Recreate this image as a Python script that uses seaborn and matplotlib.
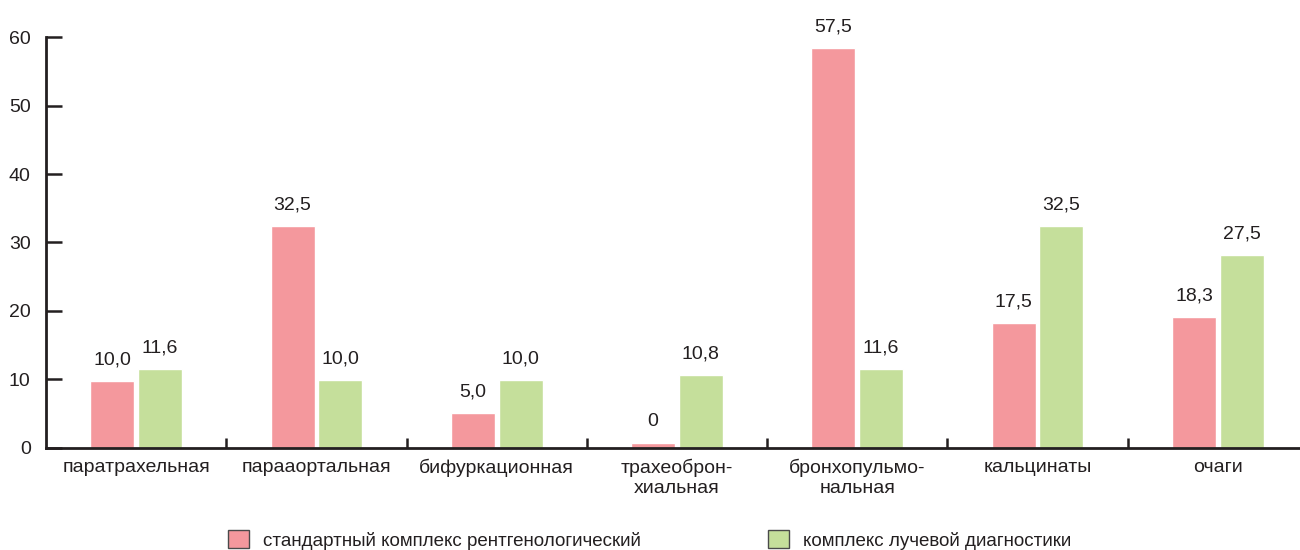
import pandas as pd
import matplotlib
matplotlib.use("Agg")
import matplotlib.pyplot as plt
import matplotlib.patches as mpatches
from matplotlib.ticker import FixedLocator
import seaborn as sns

# --- data ---
categories = ['паратрахельная', 'парааортальная', 'бифуркационная',
              'трахеоброн-\nхиальная', 'бронхопульмо-\nнальная', 'кальцинаты', 'очаги']
series_names = ['стандартный комплекс рентгенологический', 'комплекс лучевой диагностики']
standard_heights = [9.8, 32.4, 5.1, 0.7, 58.4, 18.2, 19.1]
radiation_heights = [11.5, 9.9, 9.9, 10.6, 11.5, 32.4, 28.2]
standard_labels = ['10,0', '32,5', '5,0', '0', '57,5', '17,5', '18,3']
radiation_labels = ['11,6', '10,0', '10,0', '10,8', '11,6', '32,5', '27,5']
y_ticks = [0, 10, 20, 30, 40, 50, 60]

colors = ['#F4989D', '#C5DF9B']
ink = '#231F20'

df = pd.DataFrame({
    'category': categories * 2,
    'value': standard_heights + radiation_heights,
    'series': [series_names[0]] * len(categories) + [series_names[1]] * len(categories),
})

sns.set_style('white')
plt.rcParams['font.family'] = ['Liberation Sans', 'DejaVu Sans']
plt.rcParams['text.color'] = ink

fig = plt.figure(figsize=(13, 5.5), dpi=100)
ax = fig.add_axes([46 / 1300, 1 - 447.5 / 550, 1 - 46 / 1300, 410.2 / 550])

sns.barplot(data=df, x='category', y='value', hue='series', palette=colors,
            width=0.53, gap=0.08, saturation=1, legend=False, ax=ax)

for cont, labs in zip(ax.containers, [standard_labels, radiation_labels]):
    ax.bar_label(cont, labels=labs, padding=9, fontsize=14, color=ink)

ax.set_xlim(-0.5, (1300 - 48) / 180 - 0.5)
ax.set_ylim(0, 60)
ax.set_yticks(y_ticks)
ax.set_xlabel('')
ax.set_ylabel('')

for side in ['top', 'right']:
    ax.spines[side].set_visible(False)
for side in ['left', 'bottom']:
    ax.spines[side].set_linewidth(2)
    ax.spines[side].set_color(ink)

ax.tick_params(axis='y', left=True, direction='in', length=11.5, width=1.8, color=ink,
               labelsize=14, labelcolor=ink, pad=11)
ax.tick_params(axis='x', which='major', bottom=False, length=0, labelsize=14,
               labelcolor=ink, pad=8)
ax.xaxis.set_minor_locator(FixedLocator([i + 0.5 for i in range(len(categories) - 1)]))
ax.tick_params(axis='x', which='minor', bottom=True, direction='in', length=7,
               width=1.8, color=ink)

handles = [mpatches.Patch(facecolor=c, edgecolor='#4A4A4A', linewidth=1) for c in colors]
fig.legend(handles, series_names, loc='center left', bbox_to_anchor=(228 / 1300, 10 / 550),
           ncol=2, frameon=False, fontsize=13.5, handlelength=1.1, handleheight=1.1,
           handletextpad=0.75, columnspacing=6.8, borderaxespad=0, borderpad=0)

fig.savefig('out.png', dpi=100)
